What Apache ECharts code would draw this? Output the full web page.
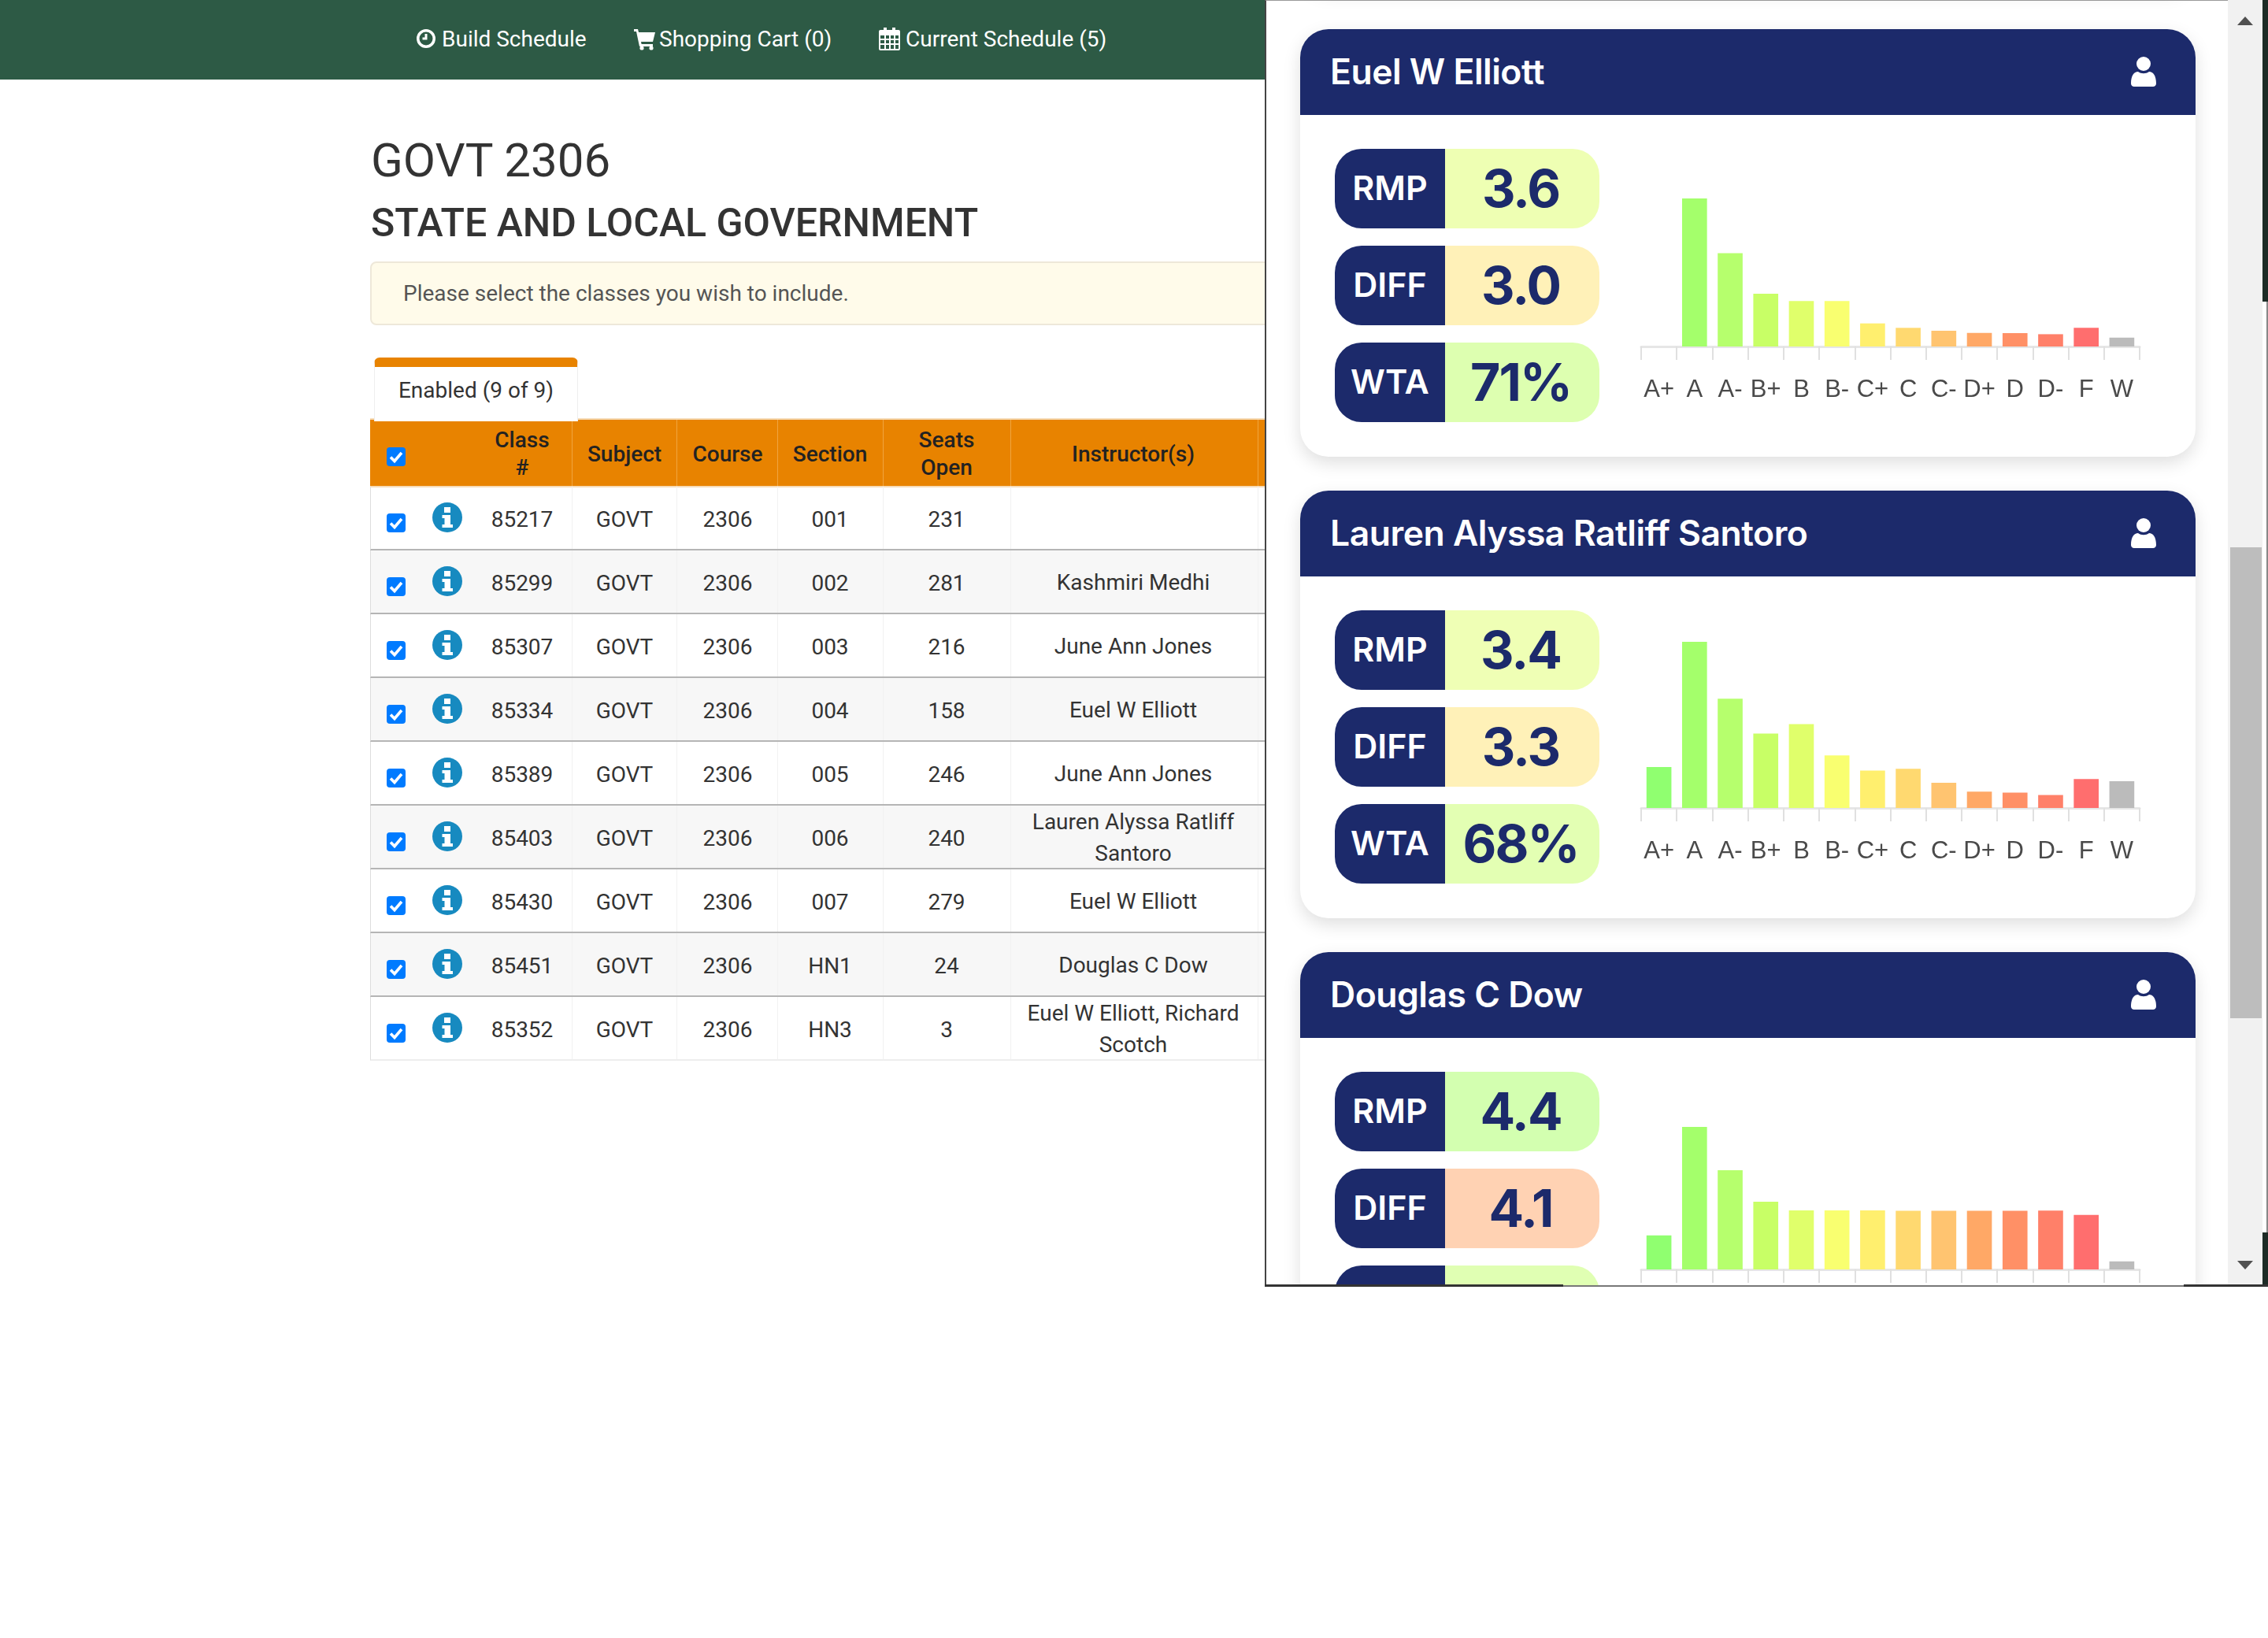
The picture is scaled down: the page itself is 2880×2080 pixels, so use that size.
<!doctype html>
<html lang="en">

<head>
    <meta charset="UTF-8">
    <title>GOVT 2306</title>
    <style>
        html, body { margin: 0; padding: 0; width: 2880px; height: 2080px; overflow: hidden; background: #fff; }
        body { font-family: Roboto, sans-serif; font-size: 28px; color: #333; position: relative; }
        .abs { position: absolute; white-space: nowrap; }
        .mid { transform: translate(-50%, -50%); text-align: center; }

        #nav { position: absolute; left: 0; top: 0; width: 1606px; height: 101px; background: #2d5a45; }
        #nav span { color: #fff; position: absolute; top: 49px; transform: translateY(-50%); white-space: nowrap; }
        #nav svg { position: absolute; fill: #fff; }

        #alert { position: absolute; left: 470px; top: 332px; width: 1150px; height: 81px; box-sizing: border-box;
            background: #fffbea; border: 2px solid #eee8d9; border-radius: 8px; color: #555; line-height: 78px; padding-left: 40px; }
        #tab { position: absolute; left: 475px; top: 454px; width: 259px; height: 81px; box-sizing: border-box; background: #fff;
            border-top: 12px solid #e88300; border-left: 1px solid #eee; border-right: 1px solid #eee; border-radius: 7px 7px 0 0;
            text-align: center; line-height: 60px; z-index: 2; }
        #thead { position: absolute; left: 470px; top: 533px; width: 1140px; height: 84px; background: #e88300; font-weight: 500; color: #222; }
        #thead:before { content: ""; position: absolute; left: 0; right: 0; top: -2px; height: 2px; background: #f6dcb8; }
        #thead:after { content: ""; position: absolute; left: 0; right: 0; bottom: -2px; height: 2px; background: #f6dcb8; }
        .col { position: absolute; top: 0; bottom: 0; width: 1px; background: #f0a540; }
        .row { position: absolute; left: 470px; width: 1140px; height: 81px; box-sizing: border-box; border-left: 1px solid #ddd; border-bottom: 2px solid #b5b5b5; }
        .row.even { background: #f7f7f7; }
        .row .col { background: #f1f1f1; }

        #panel { position: absolute; left: 1606px; top: 0; width: 1274px; height: 1634px; box-sizing: border-box; background: #fff; overflow: hidden;
            border-left: 2px solid #444; border-top: 1px solid #999; }
        .card { position: absolute; left: 43px; width: 1137px; height: 543px; background: #fff; border-radius: 36px;
            box-shadow: 0 8px 22px rgba(0, 0, 0, .13); font-family: Inter, sans-serif; }
        .head { position: absolute; left: 0; top: 0; width: 100%; height: 109px; background: #1c2a6b; border-radius: 36px 36px 0 0;
            color: #fff; font-size: 44.5px; font-weight: 600; line-height: 109px; letter-spacing: -.5px; }
        .head .name { position: absolute; left: 38px; top: 0; white-space: nowrap; }
        .head svg { position: absolute; left: 1055px; top: 35px; fill: #fff; }
        .pill { position: absolute; left: 44px; width: 336px; height: 101px; }
        .pill .k { position: absolute; left: 0; top: 0; width: 140px; height: 100%; background: #1c2a6b; color: #fff; font-size: 43px; font-weight: 600;
            border-radius: 34px 0 0 34px; text-align: center; line-height: 98px; }
        .pill .v { position: absolute; left: 140px; top: 0; width: 192px; height: 100%; padding-right: 4px; color: #1c2a6b; font-size: 66px; font-weight: 700; letter-spacing: -2px;
            border-radius: 0 34px 34px 0; text-align: center; line-height: 100px; }
        .chart { position: absolute; left: 400px; top: 170px; width: 700px; height: 320px; }

        #track { position: absolute; left: 2829px; top: 0; width: 44px; height: 1632px; background: #f1f1f1; }
        #thumb { position: absolute; left: 2832px; top: 695px; width: 40px; height: 598px; background: #bdbdbd; }
        .arrow { position: absolute; left: 2841px; width: 0; height: 0; border-left: 10.5px solid transparent; border-right: 10.5px solid transparent; }
        .strip { position: absolute; background: #1d2b26; }
    </style>
</head>

<body>
    <!-- top bar -->
    <div id="nav">
        <svg style="left:529px;top:34px" width="24" height="30" viewBox="0 0 24 30"><path fill-rule="evenodd" d="M12 3a12 12 0 1 1 0 24a12 12 0 0 1 0-24zm0 3.5a8.5 8.5 0 1 0 0 17a8.5 8.5 0 0 0 0-17zM10.5 9h3v7.5H7.5v-3h3z"/></svg>
        <span style="left:561px">Build Schedule</span>
        <svg style="left:805px;top:34px" width="27" height="30" viewBox="0 0 27 30"><path d="M0 3h5l1 4h21l-3 12H9l.6 3H24v3H7L3 6H0z"/><circle cx="10" cy="27" r="2.6"/><circle cx="22" cy="27" r="2.6"/></svg>
        <span style="left:837px">Shopping Cart (0)</span>
        <svg style="left:1116px;top:34px" width="27" height="30" viewBox="0 0 27 30"><path fill-rule="evenodd" d="M2 4h4V1h4v3h7V1h4v3h4a2 2 0 0 1 2 2v22a2 2 0 0 1-2 2H2a2 2 0 0 1-2-2V6a2 2 0 0 1 2-2zM2 11v4h5v-4zm7 0v4h4v-4zm6 0v4h4v-4zm6 0v4h4v-4zM2 17v4h5v-4zm7 0v4h4v-4zm6 0v4h4v-4zm6 0v4h4v-4zM2 23v5h5v-5zm7 0v5h4v-5zm6 0v5h4v-5zm6 0v5h4v-5z"/></svg>
        <span style="left:1150px">Current Schedule (5)</span>
    </div>

    <div class="abs" style="left:471px;top:170px;font-size:60px;line-height:68px">GOVT 2306</div>
    <div class="abs" style="left:471px;top:253px;font-size:50px;font-weight:500;line-height:60px">STATE AND LOCAL GOVERNMENT</div>
    <div id="alert">Please select the classes you wish to include.</div>
    <div id="tab">Enabled (9 of 9)</div>
    <div id="thead"></div>
    <div id="rows"></div>

    <!-- instructors panel -->
    <div id="panel"></div>
    <div id="track"></div>
    <div id="thumb"></div>
    <div class="arrow" style="top:21px;border-bottom:11px solid #505050"></div>
    <div class="arrow" style="top:1601px;border-top:11px solid #505050"></div>
    <div class="strip" style="left:2873px;top:0;width:7px;height:383px"></div>
    <div class="strip" style="left:2873px;top:1565px;width:7px;height:69px"></div>
    <div class="strip" style="left:2878px;top:383px;width:2px;height:1182px;background:#888"></div>
    <div class="strip" style="left:1606px;top:1631px;width:379px;height:3px;background:#333"></div>
    <div class="strip" style="left:1985px;top:1632px;width:788px;height:2px;background:#777"></div>
    <div class="strip" style="left:2773px;top:1631px;width:107px;height:3px;background:#333"></div>

    <script src="https://cdn.jsdelivr.net/npm/echarts@6/dist/echarts.min.js"></script>
    <script>
        // column centers on the page
        var colX = [663, 793, 924, 1054, 1202, 1439];
        var colEdges = [726, 859, 987, 1121, 1283, 1597];
        var headers = [['Class', '#'], ['Subject'], ['Course'], ['Section'], ['Seats', 'Open'], ['Instructor(s)']];

        var classes = [
            ['85217', 'GOVT', '2306', '001', '231', []],
            ['85299', 'GOVT', '2306', '002', '281', ['Kashmiri Medhi']],
            ['85307', 'GOVT', '2306', '003', '216', ['June Ann Jones']],
            ['85334', 'GOVT', '2306', '004', '158', ['Euel W Elliott']],
            ['85389', 'GOVT', '2306', '005', '246', ['June Ann Jones']],
            ['85403', 'GOVT', '2306', '006', '240', ['Lauren Alyssa Ratliff', 'Santoro']],
            ['85430', 'GOVT', '2306', '007', '279', ['Euel W Elliott']],
            ['85451', 'GOVT', '2306', 'HN1', '24', ['Douglas C Dow']],
            ['85352', 'GOVT', '2306', 'HN3', '3', ['Euel W Elliott, Richard', 'Scotch']]
        ];

        var grades = ['A+', 'A', 'A-', 'B+', 'B', 'B-', 'C+', 'C', 'C-', 'D+', 'D', 'D-', 'F', 'W'];
        var gradeColors = ['#90ff70', '#a4ff6b', '#b6ff6d', '#c8ff66', '#e0ff6b', '#f9ff70', '#ffef6e', '#ffd970',
            '#ffc470', '#ffa866', '#ff9066', '#ff8069', '#ff6e6e', '#bbbbbb'];

        // bar heights are relative to the tallest bar of each card, barPx is its height on screen
        // the third card runs past the bottom of the panel, so its WTA box and grade labels stay out of view
        var instructors = [
            {
                name: 'Euel W Elliott', rmp: '3.6', diff: '3.0', wta: '71%', wtaLabel: 'WTA', showLabels: true,
                rmpBg: '#eeffb3', diffBg: '#fff1b8', wtaBg: '#ddffb0', barPx: 188,
                grades: [0, 100, 63, 35.7, 30.7, 30.7, 15.6, 12.6, 10.7, 9.2, 9.1, 8.3, 12.6, 6]
            },
            {
                name: 'Lauren Alyssa Ratliff Santoro', rmp: '3.4', diff: '3.3', wta: '68%', wtaLabel: 'WTA', showLabels: true,
                rmpBg: '#efffb5', diffBg: '#fff1b8', wtaBg: '#e3ffb3', barPx: 211,
                grades: [24.7, 100, 65.8, 44.8, 50.5, 31.6, 22.5, 23.6, 15.2, 9.8, 9.2, 7.8, 17.4, 16.1]
            },
            {
                name: 'Douglas C Dow', rmp: '4.4', diff: '4.1', wta: '', wtaLabel: '', showLabels: false,
                rmpBg: '#d3ffb0', diffBg: '#ffd2b3', wtaBg: '#e0ffb3', barPx: 181,
                grades: [23.9, 100, 69.6, 47.5, 41.4, 41.4, 41.4, 41.1, 41.1, 41.1, 41.1, 41.3, 38.3, 5.7]
            }
        ];

        function el(parent, cls, style, text) {
            var d = document.createElement('div');
            if (cls) d.className = cls;
            if (style) d.style.cssText = style;
            if (text !== undefined) d.textContent = text;
            parent.appendChild(d);
            return d;
        }

        function checkbox(parent, x, y) {
            var svg = '<svg width="24" height="24" viewBox="0 0 24 24" style="position:absolute;left:' + x + 'px;top:' + y + 'px">' +
                '<rect width="24" height="24" rx="4" fill="#007bff"/><path d="M5 12.500l5 5L19 7" fill="none" stroke="#fff" stroke-width="3.6"/></svg>';
            parent.insertAdjacentHTML('beforeend', svg);
        }

        function infoIcon(parent, x, y) {
            var svg = '<svg width="38" height="38" viewBox="0 0 38 38" style="position:absolute;left:' + x + 'px;top:' + y + 'px">' +
                '<circle cx="19" cy="19" r="19" fill="#178ac0"/><rect x="15" y="6" width="8" height="7" fill="#fff"/>' +
                '<path d="M12.500 16h10.500v12h3v4H12.500v-4h3v-8h-3z" fill="#fff"/></svg>';
            parent.insertAdjacentHTML('beforeend', svg);
        }

        // table header
        var thead = document.getElementById('thead');
        colEdges.forEach(function(x) {
            el(thead, 'col', 'left:' + (x - 470) + 'px');
        });
        headers.forEach(function(lines, i) {
            var h = el(thead, 'abs mid', 'left:' + (colX[i] - 470) + 'px;top:42.5px;line-height:35px');
            h.innerHTML = lines.join('<br>');
        });
        checkbox(thead, 21, 35);

        // table rows
        var rows = document.getElementById('rows');
        classes.forEach(function(c, r) {
            var row = el(rows, 'row' + (r % 2 ? ' even' : ''), 'top:' + (618 + r * 81) + 'px');
            if (r === classes.length - 1) row.style.borderBottomColor = '#eee';
            colEdges.forEach(function(x) {
                el(row, 'col', 'left:' + (x - 471) + 'px');
            });
            checkbox(row, 20, 34);
            infoIcon(row, 78, 20);
            for (var i = 0; i < 5; i++) {
                el(row, 'abs mid', 'left:' + (colX[i] - 471) + 'px;top:40.5px', c[i]);
            }
            if (c[5].length) {
                var t = el(row, 'abs mid', 'left:' + (colX[5] - 471) + 'px;top:40.5px;line-height:40px');
                t.innerHTML = c[5].join('<br>');
            }
        });

        // instructor cards
        var panel = document.getElementById('panel');
        var userIcon = '<svg width="32" height="38" viewBox="0 0 32 38"><circle cx="16" cy="9" r="9"/><path d="M0 34c0-10 4-15 9-15c2 1.500 4.500 2.200 7 2.200s5-.7 7-2.200c5 0 9 5 9 15c0 2.500-2 4-4 4H4c-2 0-4-1.500-4-4z"/></svg>';

        // bottom of the card scrolled out above the first one
        el(panel, 'card', 'top:-560px');

        instructors.forEach(function(ins, n) {
            var card = el(panel, 'card', 'top:' + (35.5 + n * 586.2) + 'px');
            var head = el(card, 'head');
            el(head, 'name', '', ins.name);
            head.insertAdjacentHTML('beforeend', userIcon);

            var pills = [['RMP', ins.rmp, ins.rmpBg, 152], ['DIFF', ins.diff, ins.diffBg, 275], ['WTA', ins.wta, ins.wtaBg, 398]];
            pills.forEach(function(p) {
                var pill = el(card, 'pill', 'top:' + p[3] + 'px');
                el(pill, 'k', '', p[0] === 'WTA' ? ins.wtaLabel : p[0]);
                el(pill, 'v', 'background:' + p[2], p[1]);
            });

            var box = el(card, 'chart');
            var myChart = echarts.init(box);
            myChart.setOption({
                animation: false,
                grid: { left: 33, width: 633, top: 233 - ins.barPx, height: ins.barPx },
                xAxis: {
                    type: 'category',
                    data: grades,
                    axisLine: { lineStyle: { color: '#e6e6e6', width: 3 } },
                    axisTick: { show: true, alignWithLabel: false, length: 17, lineStyle: { color: '#e0e0e0', width: 2 } },
                    axisLabel: { show: ins.showLabels, interval: 0, margin: 40, fontFamily: 'Liberation Sans', fontSize: 31, color: '#4a4a4a' }
                },
                yAxis: { type: 'value', min: 0, max: 100, show: false },
                series: [{
                    type: 'bar',
                    barWidth: '70%',
                    data: ins.grades.map(function(v, i) {
                        return { value: v, itemStyle: { color: gradeColors[i] } };
                    })
                }]
            });
        });
    </script>
</body>

</html>
